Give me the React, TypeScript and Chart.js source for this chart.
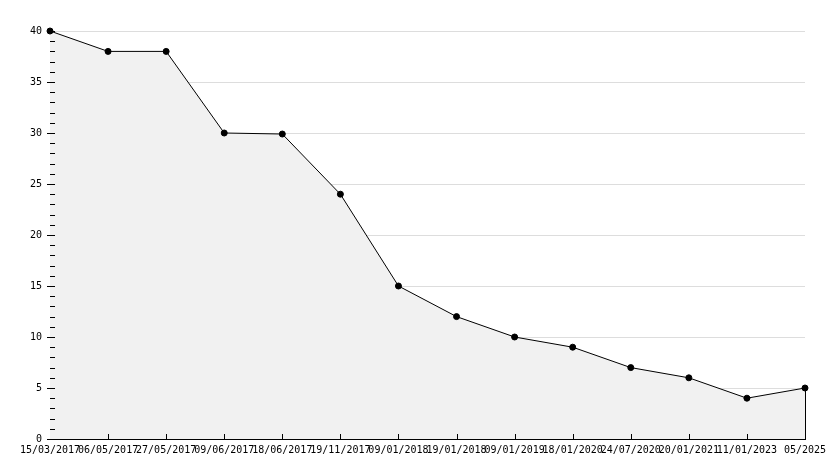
import React, { useEffect, useRef } from "react";
import { Chart, registerables } from "chart.js";

Chart.register(...registerables);

const categories = [
  "15/03/2017", "06/05/2017", "27/05/2017", "09/06/2017", "18/06/2017",
  "19/11/2017", "09/01/2018", "19/01/2018", "09/01/2019", "18/01/2020",
  "24/07/2020", "20/01/2021", "11/01/2023", "05/2025",
];
const values = [40, 38, 38, 30, 29.9, 24, 15, 12, 10, 9, 7, 6, 4, 5];
const yTicks = [0, 5, 10, 15, 20, 25, 30, 35, 40];

const FONT = { family: "'DejaVu Sans Mono', monospace", size: 10 };

const tickPlugin = {
  id: "customTicks",
  afterDraw(chart: any) {
    const ctx = chart.ctx;
    const area = chart.chartArea;
    const x = chart.scales.x;
    const y = chart.scales.y;
    ctx.save();
    ctx.strokeStyle = "#000";
    ctx.lineWidth = 1;
    ctx.beginPath();
    // y ticks inside
    for (let v = 0; v <= 40; v++) {
      const py = Math.round(y.getPixelForValue(v)) + 0.5;
      ctx.moveTo(v % 5 === 0 ? area.left - 3 : area.left, py);
      ctx.lineTo(area.left + 5, py);
    }
    // x ticks inside
    for (let i = 1; i < categories.length; i++) {
      const px = Math.round(x.getPixelForValue(i)) + 0.5;
      ctx.moveTo(px, area.bottom);
      ctx.lineTo(px, area.bottom - 5);
    }
    // right edge of fill
    const lastX = Math.round(x.getPixelForValue(categories.length - 1)) + 0.5;
    ctx.moveTo(lastX, y.getPixelForValue(values[values.length - 1]));
    ctx.lineTo(lastX, area.bottom);
    ctx.stroke();
    ctx.restore();
  },
};

export default function App() {
  const ref = useRef<HTMLCanvasElement>(null);
  useEffect(() => {
    document.body.style.margin = "0";
    const chart = new Chart(ref.current!, {
      type: "line",
      data: {
        labels: categories,
        datasets: [
          {
            data: values,
            borderColor: "#000",
            borderWidth: 1,
            backgroundColor: "#f1f1f1",
            fill: "origin",
            tension: 0,
            clip: false,
            pointRadius: 3,
            pointStyle: "circle",
            pointBackgroundColor: "#000",
            pointBorderColor: "#000",
          },
        ],
      },
      options: {
        animation: false,
        responsive: false,
        devicePixelRatio: 1,
        layout: { padding: { top: 31, right: 29, left: 0, bottom: 0 } },
        plugins: { legend: { display: false }, tooltip: { enabled: false } },
        scales: {
          x: {
            offset: false,
            afterFit: (s: any) => { s.height = 29; },
            grid: { display: false, drawTicks: false },
            border: { display: true, color: "#000", width: 1 },
            ticks: {
              autoSkip: false,
              maxRotation: 0,
              minRotation: 0,
              color: "#000",
              font: FONT,
              padding: 5,
            },
          },
          y: {
            min: 0,
            max: 40,
            afterFit: (s: any) => { s.width = 50; },
            afterBuildTicks: (s: any) => { s.ticks = yTicks.map((v) => ({ value: v })); },
            grid: { color: "#dddddd", drawTicks: false },
            border: { display: true, color: "#000", width: 1 },
            ticks: { color: "#000", font: FONT, padding: 8 },
          },
        },
      },
      plugins: [tickPlugin],
    });
    return () => chart.destroy();
  }, []);
  return (
    <div style={{ position: "absolute", left: 0, top: 0, width: 834, height: 468, background: "#fff" }}>
      <canvas ref={ref} width={834} height={468} />
    </div>
  );
}
